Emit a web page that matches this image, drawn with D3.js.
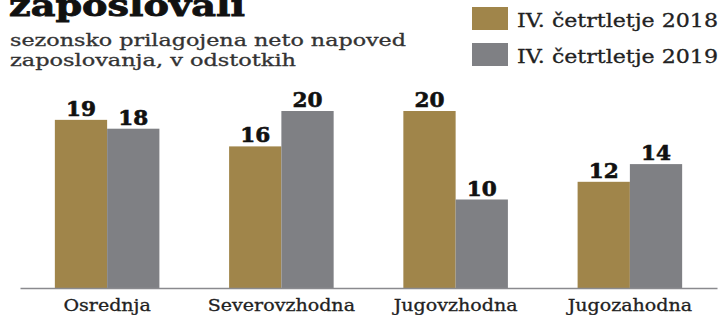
<!DOCTYPE html>
<html><head><meta charset="utf-8">
<script src="https://cdn.jsdelivr.net/npm/d3@7"></script>
<style>body{margin:0;background:#fff;} svg{display:block;}</style>
</head><body>
<svg id="c" width="723" height="315"></svg>
<script>
const categories = ["Osrednja", "Severovzhodna", "Jugovzhodna", "Jugozahodna"];
const seriesNames = ["IV. četrtletje 2018", "IV. četrtletje 2019"];
const values2018 = [19, 16, 20, 12];
const values2019 = [18, 20, 10, 14];
const colors = ["#a0854a", "#7f8084"];
const title = "zaposlovali";
const subtitle = ["sezonsko prilagojena neto napoved", "zaposlovanja, v odstotkih"];

const svg = d3.select("#c");
const serif = "'DejaVu Serif', serif";
const baseY = 288;

const x = d3.scaleBand().domain(categories).range([20, 717]).paddingInner(0.4).paddingOuter(0.2);
const xs = d3.scaleBand().domain([0, 1]).range([0, x.bandwidth()]);
const y = d3.scaleLinear().domain([0, 20]).range([baseY, 111]);

const series = [values2018, values2019];

// title
svg.append("text").attr("x", 9).attr("y", 16).text(title)
  .attr("font-family", serif).attr("font-weight", "bold").attr("font-size", 29)
  .attr("fill", "#111").attr("stroke", "#111").attr("stroke-width", 0.8)
  .attr("textLength", 236).attr("lengthAdjust", "spacingAndGlyphs");
subtitle.forEach((s, i) => {
  svg.append("text").attr("x", 10).attr("y", 46 + i * 20).text(s)
    .attr("font-family", serif).attr("font-size", 16).attr("fill", "#333")
    .attr("stroke", "#333").attr("stroke-width", 0.3)
    .attr("textLength", i === 0 ? 396 : 286).attr("lengthAdjust", "spacingAndGlyphs");
});

// legend
seriesNames.forEach((n, i) => {
  svg.append("rect").attr("x", 472).attr("y", 7 + i * 36).attr("width", 36).attr("height", 23).attr("fill", colors[i]);
  svg.append("text").attr("x", 517).attr("y", 27 + i * 36).text(n)
    .attr("font-family", serif).attr("font-size", 19).attr("fill", "#222")
    .attr("stroke", "#222").attr("stroke-width", 0.3)
    .attr("textLength", 201).attr("lengthAdjust", "spacingAndGlyphs");
});

// bars
const g = svg.append("g");
categories.forEach((c, ci) => {
  series.forEach((vals, si) => {
    const v = vals[ci];
    const bx = x(c) + xs(si);
    g.append("rect").attr("x", bx).attr("y", y(v)).attr("width", xs.bandwidth()).attr("height", baseY - y(v)).attr("fill", colors[si]);
    g.append("text").attr("x", bx + xs.bandwidth() / 2).attr("y", y(v) - 4).attr("text-anchor", "middle")
      .text(v).attr("font-family", serif).attr("font-weight", "bold").attr("font-size", 20)
      .attr("fill", "#111").attr("stroke", "#111").attr("stroke-width", 0.6)
      .attr("textLength", 30).attr("lengthAdjust", "spacingAndGlyphs");
  });
});

// axis
const axis = d3.axisBottom(x).tickSize(0).tickPadding(10);
const ag = svg.append("g").attr("transform", `translate(0,${baseY})`).call(axis);
ag.select(".domain").attr("stroke", "#8a8a8e").attr("stroke-width", 1.5);
ag.selectAll(".tick text").attr("font-family", serif).attr("font-size", 17).attr("fill", "#222")
  .attr("stroke", "#222").attr("stroke-width", 0.3).attr("dy", "0.75em")
  .each(function() { const w = this.getComputedTextLength(); d3.select(this).attr("textLength", w * 1.12).attr("lengthAdjust", "spacingAndGlyphs"); });
</script>
</body></html>
